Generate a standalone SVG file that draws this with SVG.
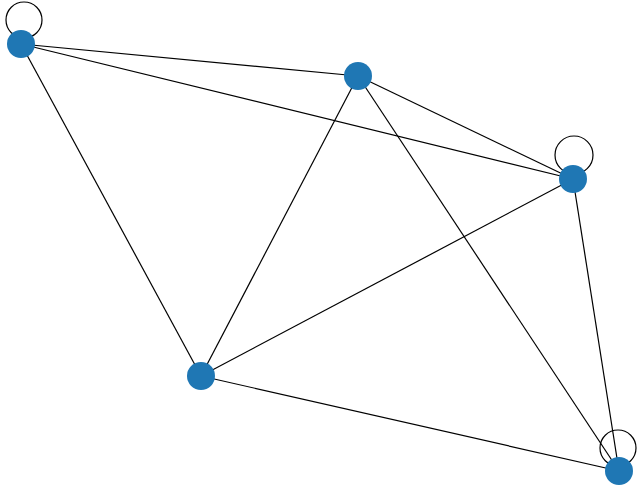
<svg xmlns="http://www.w3.org/2000/svg" width="640" height="488" viewBox="0 0 640 488">
<style>.e{stroke:#000;stroke-width:1.2;fill:none}.n{fill:#1f77b4}</style>
<rect width="640" height="488" fill="#fff"/>
<g id="edges">
<line class="e" x1="21" y1="44" x2="358" y2="76"/>
<line class="e" x1="21" y1="44" x2="573" y2="179"/>
<line class="e" x1="21" y1="44" x2="201" y2="376"/>
<line class="e" x1="358" y1="76" x2="573" y2="179"/>
<line class="e" x1="358" y1="76" x2="201" y2="376"/>
<line class="e" x1="358" y1="76" x2="619" y2="471"/>
<line class="e" x1="573" y1="179" x2="201" y2="376"/>
<line class="e" x1="573" y1="179" x2="619" y2="471"/>
<line class="e" x1="201" y1="376" x2="619" y2="471"/>
<circle class="e" cx="24" cy="20" r="18"/>
<circle class="e" cx="574" cy="155" r="19"/>
<circle class="e" cx="618" cy="448" r="18"/>
</g>
<g id="A"><circle class="n" cx="21" cy="44" r="14"/></g>
<g id="B"><circle class="n" cx="358" cy="76" r="14"/></g>
<g id="C"><circle class="n" cx="573" cy="179" r="14"/></g>
<g id="D"><circle class="n" cx="201" cy="376" r="14"/></g>
<g id="E"><circle class="n" cx="619" cy="471" r="14"/></g>
</svg>
